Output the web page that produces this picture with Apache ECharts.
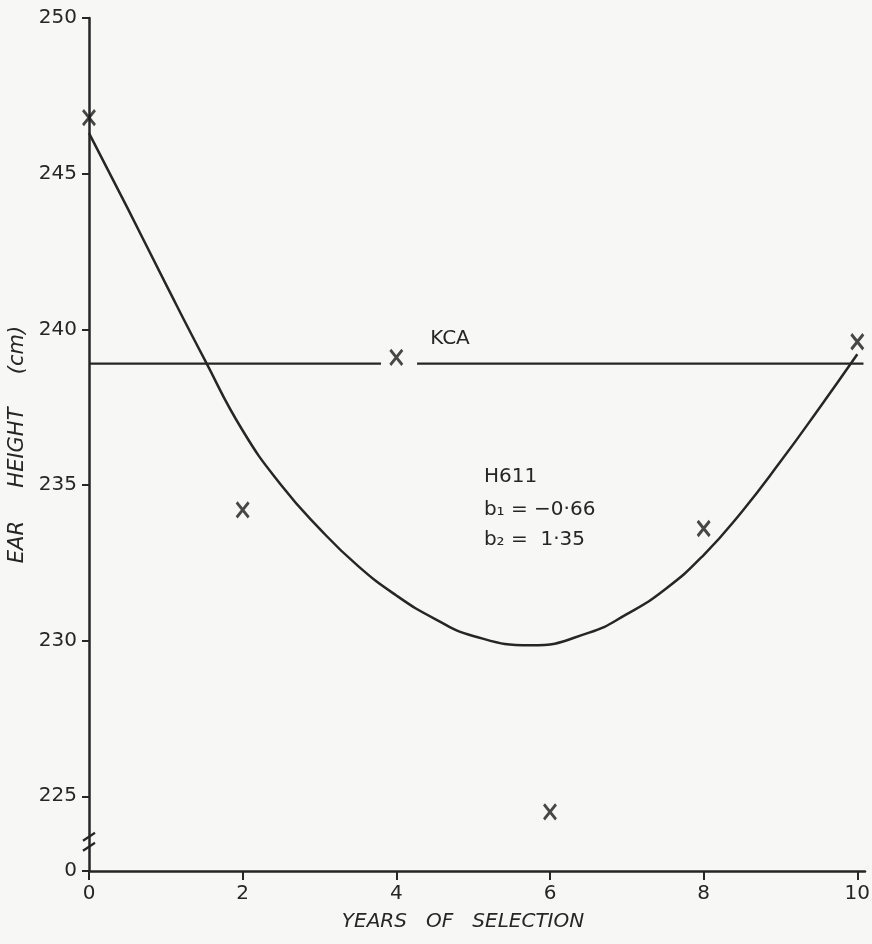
<!DOCTYPE html>
<html><head><meta charset="utf-8">
<script src="https://cdn.jsdelivr.net/npm/echarts@6/dist/echarts.min.js"></script>
<style>html,body{margin:0;padding:0;background:#f7f7f5}#c{width:872px;height:944px}</style>
</head><body><div id="c"></div>
<script>
// ---- data ----
const selectionYears = [0, 2, 4, 6, 8, 10];
const h611Means = [246.8, 234.2, 239.1, 224.5, 233.6, 239.6];
const fittedYears = [0, 0.5, 1, 1.5, 2, 2.5, 3, 3.5, 4, 4.5, 5, 5.75, 6.5, 7, 7.5, 8, 8.5, 9, 9.5, 10];
const fittedHeights = [246.3, 243.9, 241.45, 239.05, 236.75, 235.0, 233.6, 232.4, 231.45, 230.7, 230.15, 229.85, 230.25, 230.85, 231.65, 232.75, 234.15, 235.75, 237.45, 239.2];
const kcaMean = 238.9;
const kcaSegments = [[0, 3.8], [4.27, 10.08]];
const xTickValues = [0, 2, 4, 6, 8, 10];
const yTickValues = [222.6, 225, 230, 235, 240, 245, 250];
const yTickLabels = ['0', '225', '230', '235', '240', '245', '250'];
const annotH611 = ['H611', 'b\u2081 = \u22120\u00b766', 'b\u2082 =  1\u00b735'];
const annotKCA = 'KCA';

// ---- styling ----
const INK = '#262626';
const FONT = 'DejaVu Sans';

const chart = echarts.init(document.getElementById('c'), null, { renderer: 'canvas' });

const kcaSeries = kcaSegments.map(seg => ({
  type: 'line',
  data: seg.map(x => [x, kcaMean]),
  symbol: 'none',
  clip: false,
  lineStyle: { color: INK, width: 2.3 },
  silent: true
}));

const option = {
  backgroundColor: '#f7f7f5',
  animation: false,
  grid: { left: 89, right: 7, top: 18, bottom: 73, containLabel: false, outerBoundsMode: 'none' },
  xAxis: {
    type: 'value',
    min: 0, max: 10.1,
    name: 'YEARS   OF   SELECTION',
    nameLocation: 'middle',
    nameGap: 41,
    nameTextStyle: { color: INK, fontFamily: FONT, fontSize: 20, fontStyle: 'italic', padding: [0, 28, 0, 0] },
    axisLine: { show: true, lineStyle: { color: INK, width: 2.5 } },
    axisTick: { show: true, length: 9, customValues: xTickValues, lineStyle: { color: INK, width: 2 } },
    axisLabel: { customValues: xTickValues, color: INK, fontFamily: FONT, fontSize: 20, margin: 13 },
    splitLine: { show: false }
  },
  yAxis: {
    type: 'value',
    min: 222.6, max: 250,
    name: 'EAR     HEIGHT     (cm)',
    nameLocation: 'middle',
    nameRotate: 90,
    nameGap: 60,
    nameTextStyle: { color: INK, fontFamily: FONT, fontSize: 21, fontStyle: 'italic' },
    axisLine: { show: true, lineStyle: { color: INK, width: 2.5 } },
    axisTick: { show: true, length: 7, customValues: yTickValues, lineStyle: { color: INK, width: 2 } },
    axisLabel: {
      customValues: yTickValues,
      color: INK, fontFamily: FONT, fontSize: 20, margin: 12,
      formatter: v => {
        const i = yTickValues.findIndex(t => Math.abs(t - v) < 1e-6);
        return i >= 0 ? yTickLabels[i] : '';
      }
    },
    splitLine: { show: false }
  },
  series: [
    {
      type: 'line',
      data: fittedYears.map((x, i) => [x, fittedHeights[i]]),
      smooth: 0.5,
      symbol: 'none',
      lineStyle: { color: INK, width: 2.5 },
      silent: true
    },
    ...kcaSeries,
    {
      type: 'scatter',
      data: selectionYears.map((x, i) => [x, h611Means[i]]),
      symbol: 'path://M0 0 L10 13 M10 0 L0 13',
      symbolSize: [12, 15],
      clip: false,
      itemStyle: { color: 'rgba(0,0,0,0)', borderColor: '#1a1a1a', borderWidth: 3 },
      silent: true
    }
  ]
};
chart.setOption(option);

// annotations & axis break marks positioned through the chart's own scales
const px = (x, y) => chart.convertToPixel({ gridIndex: 0 }, [x, y]);
const kcaPos = px(4.44, 239.7);
const h611Pos = [px(5.14, 235.25), px(5.14, 234.2), px(5.14, 233.25)];
const b1 = px(0, 223.7), b2 = px(0, 223.38);
const txt = (p, t) => ({
  type: 'text', x: p[0], y: p[1],
  style: { text: t, fill: INK, fontFamily: FONT, fontSize: 20, verticalAlign: 'middle', align: 'left' }
});
const brk = p => ({
  type: 'line',
  shape: { x1: p[0] - 6, y1: p[1] + 4, x2: p[0] + 6, y2: p[1] - 4 },
  style: { stroke: INK, lineWidth: 2.2 }
});
chart.setOption({
  graphic: [
    txt(kcaPos, annotKCA),
    ...annotH611.map((t, i) => txt(h611Pos[i], t)),
    brk(b1), brk(b2)
  ]
});
</script>
</body></html>
